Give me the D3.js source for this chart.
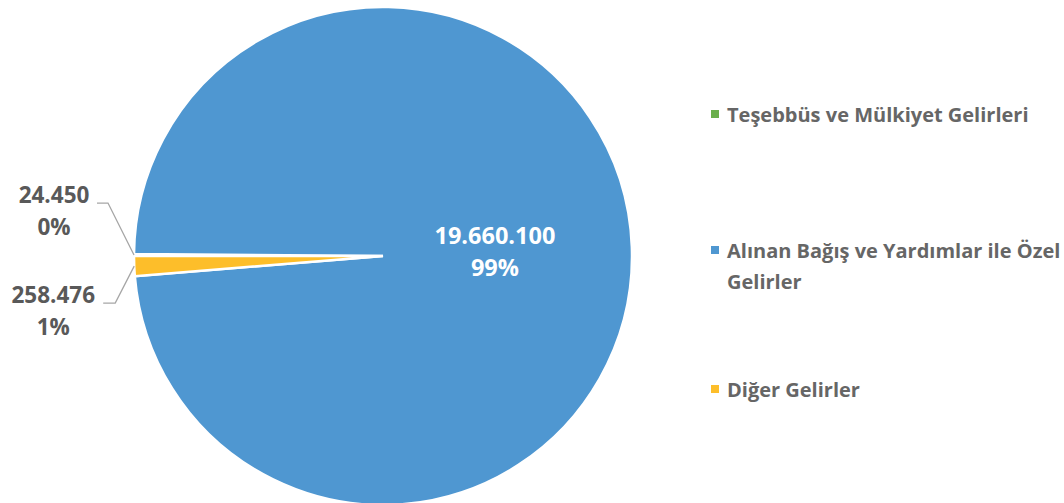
<!DOCTYPE html>
<html>
<head>
    <meta charset="utf-8">
    <title>Gelirler</title>
    <script src="https://d3js.org/d3.v7.min.js"></script>
    <style>
        body { margin: 0; background: #fff; }
        text { font-family: "Open Sans", sans-serif; font-weight: bold; }
    </style>
</head>
<body>
    <div id="chart"></div>

    <script>
        // Veriler
        const categories = ["Teşebbüs ve Mülkiyet Gelirleri", "Alınan Bağış ve Yardımlar ile Özel Gelirler", "Diğer Gelirler"];
        const values = [24450, 19660100, 258476];
        const percentLabels = ["0%", "99%", "1%"];
        const colors = ["#6AAF4C", "#4F97D1", "#FDBE2A"];

        const width = 1064;
        const height = 503;
        const cx = 383, cy = 256, radius = 249;

        const fmt = d3.formatLocale({ decimal: ",", thousands: ".", grouping: [3], currency: ["", ""] }).format(",d");

        const svg = d3.select("#chart")
            .append("svg")
            .attr("width", width)
            .attr("height", height);

        const pie = d3.pie()
            .sort(null)
            .startAngle(Math.PI * 1.5)
            .endAngle(Math.PI * 3.5);

        const arcs = pie(values);

        const arc = d3.arc().innerRadius(0).outerRadius(radius);
        const edgeArc = d3.arc().innerRadius(radius).outerRadius(radius);
        const insideArc = d3.arc().innerRadius(112).outerRadius(112);

        const g = svg.append("g").attr("transform", `translate(${cx},${cy})`);

        // Dilimler
        g.selectAll("path.slice")
            .data(arcs)
            .enter()
            .append("path")
            .attr("class", "slice")
            .attr("d", arc)
            .attr("fill", (d, i) => colors[i])
            .attr("stroke", "#fff")
            .attr("stroke-width", 2.5);

        // Etiketler: küçük dilimler dışarıda, büyük dilim içeride
        const outside = {
            0: { elbow: [-26, -52], end: [-37, -52], text: -43 },
            2: { elbow: [-19, 37], end: [-31, 37], text: -50 }
        };

        arcs.forEach((d, i) => {
            const lines = [fmt(values[i]), percentLabels[i]];
            if (outside[i]) {
                const o = outside[i];
                const p = edgeArc.centroid(d);
                const e = [p[0] + o.elbow[0], p[1] + o.elbow[1]];
                const f = [p[0] + o.end[0], p[1] + o.end[1]];
                g.append("polyline")
                    .attr("points", [p, e, f].map(q => q.join(",")).join(" "))
                    .attr("fill", "none")
                    .attr("stroke", "#a6a6a6")
                    .attr("stroke-width", 1.3);
                const t = g.append("text")
                    .attr("text-anchor", "middle")
                    .attr("fill", "#595959")
                    .attr("font-size", 22.5);
                lines.forEach((s, k) => {
                    t.append("tspan")
                        .attr("x", f[0] + o.text)
                        .attr("y", f[1] + k * 32)
                        .text(s);
                });
            } else {
                const c = insideArc.centroid(d);
                const t = g.append("text")
                    .attr("text-anchor", "middle")
                    .attr("fill", "#fff")
                    .attr("font-size", 23.5);
                lines.forEach((s, k) => {
                    t.append("tspan")
                        .attr("x", c[0])
                        .attr("y", c[1] - 8 + k * 32)
                        .text(s);
                });
            }
        });

        // Lejant
        const legendY = [122, 258, 397];
        const legend = svg.append("g");
        categories.forEach((name, i) => {
            legend.append("rect")
                .attr("x", 711)
                .attr("y", legendY[i] - 12)
                .attr("width", 8)
                .attr("height", 8)
                .attr("fill", colors[i]);
            const t = legend.append("text")
                .attr("fill", "#666")
                .attr("font-size", 20);
            // satır kaydırma
            const words = name.split(" ");
            let line = [], row = 0;
            let tspan = t.append("tspan").attr("x", 727).attr("y", legendY[i]);
            words.forEach(w => {
                line.push(w);
                tspan.text(line.join(" "));
                if (tspan.node().getComputedTextLength() > 335 && line.length > 1) {
                    line.pop();
                    tspan.text(line.join(" "));
                    line = [w];
                    row++;
                    tspan = t.append("tspan").attr("x", 727).attr("y", legendY[i] + row * 31).text(w);
                }
            });
        });
    </script>
</body>
</html>
